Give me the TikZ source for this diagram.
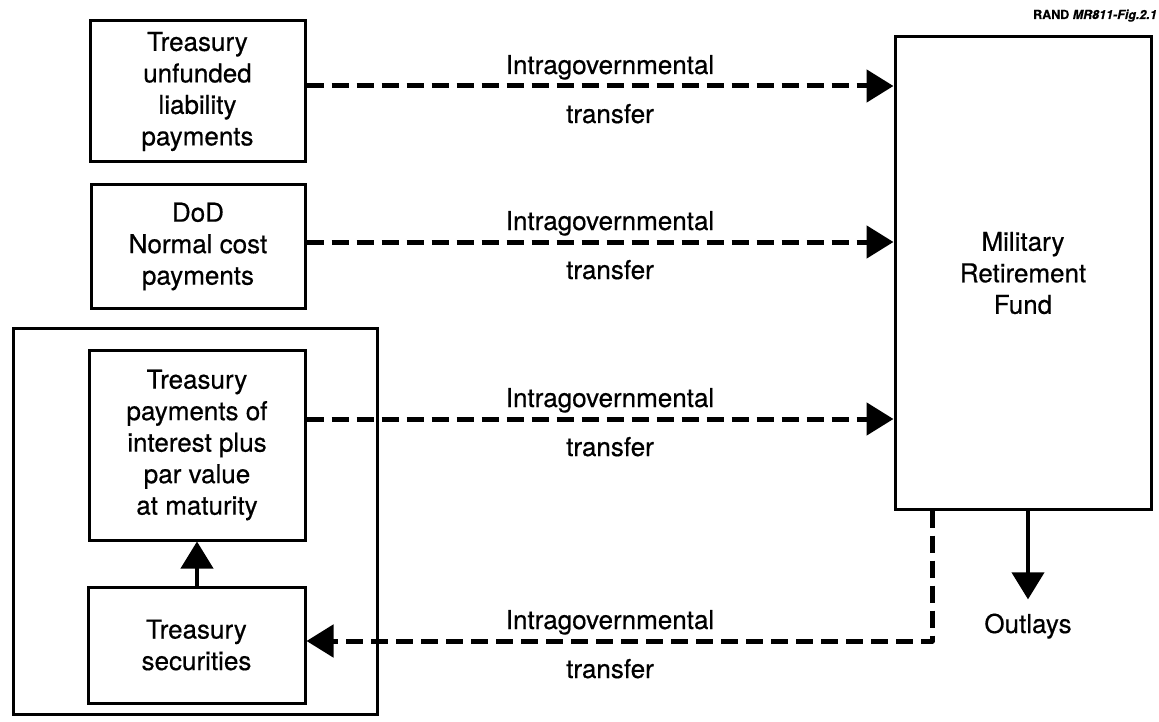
\documentclass[tikz,border=0pt]{standalone}
\usepackage{fontspec}
\setmainfont{TeX Gyre Heros}[FakeBold=0.5]
\usetikzlibrary{arrows.meta}
\begin{document}
\begin{tikzpicture}[x=1pt,y=-1pt,
  box/.style={draw, line width=3pt, inner sep=0pt, align=center, font=\fontsize{26}{31.5}\selectfont},
  dasharrow/.style={line width=5pt, dash pattern=on 17pt off 8pt, line join=round, -{Triangle[length=27pt,width=32pt]}},
  solidarrow/.style={line width=4pt, -{Triangle[length=27pt,width=32pt]}},
  lbl/.style={font=\fontsize{26}{31.5}\selectfont, anchor=base, inner sep=0pt}]
\useasboundingbox (0,0) rectangle (1159,722);
\fill[white] (0,0) rectangle (1159,722);

\node[box, minimum width=215pt, minimum height=141pt] (b1) at (197.5,91.5) {Treasury\\unfunded\\liability\\payments};
\node[box, minimum width=214pt, minimum height=123pt] (b2) at (198,246.5) {DoD\\Normal cost\\payments};
\node[draw, line width=3pt, inner sep=0pt, minimum width=364pt, minimum height=386pt] (outer) at (195,521) {};
\node[box, minimum width=216pt, minimum height=190pt] (b3) at (197,445) {Treasury\\payments of\\interest plus\\par value\\at maturity};
\node[box, minimum width=217pt, minimum height=116pt] (b4) at (196.5,645) {Treasury\\securities};
\node[box, minimum width=256pt, minimum height=472pt] (mrf) at (1023,273) {Military\\Retirement\\Fund};

\node[anchor=base east, inner sep=0pt, font=\fontsize{12.5}{14}\selectfont\bfseries] (rand) at (1157,19) {RAND \textit{MR811-Fig.2.1}};

\coordinate (r1) at (610,86);
\coordinate (r2) at (610,242);
\coordinate (r3) at (610,419);
\coordinate (c4) at (932,641);

\draw[dasharrow] (b1.east |- r1) -- (mrf.west |- r1);
\draw[dasharrow] (b2.east |- r2) -- (mrf.west |- r2);
\draw[dasharrow] (b3.east |- r3) -- (mrf.west |- r3);
\draw[dasharrow] (mrf.south -| c4) -- (c4) -- (b4.east |- c4);

\node[lbl] (l1a) at (610,74) {Intragovernmental};
\node[lbl] (l1b) at (610,123) {transfer};
\node[lbl] (l2a) at (610,230) {Intragovernmental};
\node[lbl] (l2b) at (610,279) {transfer};
\node[lbl] (l3a) at (610,407) {Intragovernmental};
\node[lbl] (l3b) at (610,456) {transfer};
\node[lbl] (l4a) at (610,629) {Intragovernmental};
\node[lbl] (l4b) at (610,678) {transfer};

\draw[solidarrow] (b4.north -| b3.south) -- (b3.south);

\node[lbl] (outl) at (1028,633) {Outlays};
\draw[solidarrow] (mrf.south -| outl) -- ([yshift=14pt]outl.north);
\end{tikzpicture}
\end{document}
